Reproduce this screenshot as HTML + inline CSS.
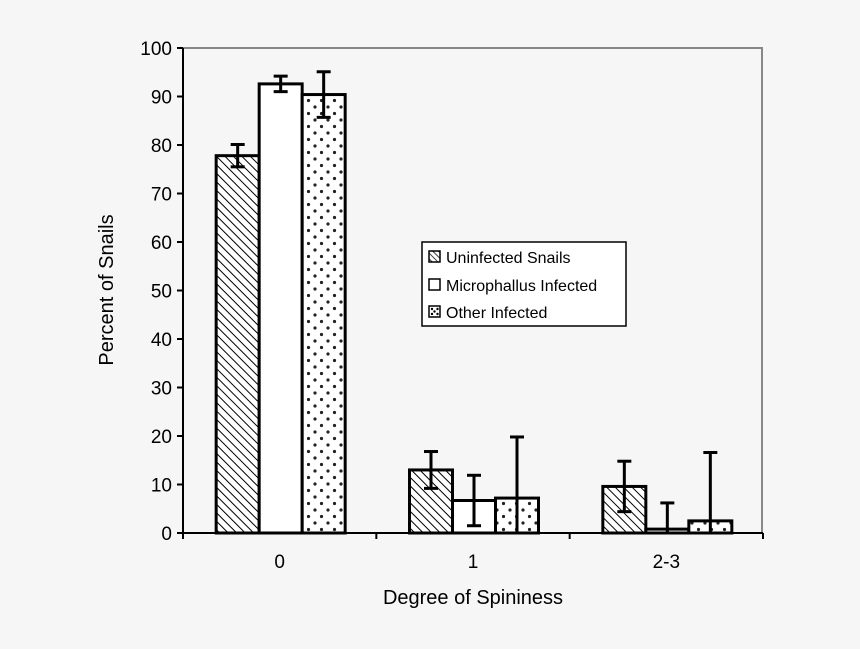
<!DOCTYPE html>
<html><head><meta charset="utf-8"><style>
html,body{margin:0;padding:0;background:#f6f6f6;}
svg{display:block;font-family:"Liberation Sans",Arial,sans-serif;}
</style></head><body>
<svg id="chart" width="860" height="649" viewBox="0 0 860 649">
<defs>
<pattern id="hatch" width="6" height="6" patternUnits="userSpaceOnUse" patternTransform="rotate(-45)">
<rect width="6" height="6" fill="#fff"/><line x1="0" y1="0" x2="0" y2="6" stroke="#000" stroke-width="2"/>
</pattern>
<pattern id="hatchs" width="4" height="4" patternUnits="userSpaceOnUse" patternTransform="rotate(-45)">
<rect width="4" height="4" fill="#fff"/><line x1="0" y1="0" x2="0" y2="4" stroke="#000" stroke-width="1.5"/>
</pattern>
<pattern id="dots" width="13" height="13" patternUnits="userSpaceOnUse">
<rect width="13" height="13" fill="#fff"/><circle cx="3" cy="3" r="1.6" fill="#222"/><circle cx="9.5" cy="9.5" r="1.6" fill="#222"/>
</pattern>
</defs>
<rect x="0" y="0" width="860" height="649" fill="#f6f6f6"/>
<line x1="183" y1="48" x2="763" y2="48" stroke="#888" stroke-width="2"/>
<line x1="762" y1="48" x2="762" y2="533" stroke="#888" stroke-width="2"/>
<g id="bars"></g>
<g id="axes"></g>
<text x="473" y="604" font-size="20" text-anchor="middle">Degree of Spininess</text>
<text transform="translate(113,290) rotate(-90)" font-size="20" text-anchor="middle">Percent of Snails</text>
<g>
<rect x="422" y="242" width="204" height="84" fill="#fff" stroke="#000" stroke-width="1.5"/>
<g><rect x="429" y="251" width="11" height="11" fill="url(#hatchs)" stroke="#000" stroke-width="1.5"/><text x="446" y="263" font-size="16">Uninfected Snails</text></g>
<g><rect x="429" y="279" width="11" height="11" fill="#fff" stroke="#000" stroke-width="1.5"/><text x="446" y="291" font-size="16">Microphallus Infected</text></g>
<g><rect x="429" y="306" width="11" height="11" fill="#fff" stroke="#000" stroke-width="1.5"/><circle cx="432" cy="309" r="1.2" fill="#000"/><circle cx="437.5" cy="309" r="1.2" fill="#000"/><circle cx="434.5" cy="311.5" r="1.2" fill="#000"/><circle cx="432" cy="314" r="1.2" fill="#000"/><circle cx="437.5" cy="314" r="1.2" fill="#000"/><text x="446" y="318" font-size="16">Other Infected</text></g>
</g>
</svg>
<script>
const categories = ["0", "1", "2-3"];
const uninfected = [77.8, 13.0, 9.6];
const uninfectedErr = [2.3, 3.8, 5.2];
const microphallus = [92.6, 6.7, 0.8];
const microphallusErr = [1.6, 5.2, 5.4];
const other = [90.4, 7.2, 2.5];
const otherErr = [4.7, 12.6, 14.1];
const yTicks = [0, 10, 20, 30, 40, 50, 60, 70, 80, 90, 100];

const NS = "http://www.w3.org/2000/svg";
const x0 = 183, x1 = 763, y0 = 533, y1 = 48;
const yScale = v => y0 - (v / 100) * (y0 - y1);
const groupW = (x1 - x0) / categories.length;
const xCenter = i => x0 + groupW * (i + 0.5) + 1;
const barW = 43;
function mk(tag, attrs, parent) {
  const e = document.createElementNS(NS, tag);
  for (const k in attrs) e.setAttribute(k, attrs[k]);
  parent.appendChild(e);
  return e;
}
const bars = document.getElementById("bars");
const axes = document.getElementById("axes");
const series = [
  {vals: uninfected, err: uninfectedErr, fill: "url(#hatch)", name: "uninfected"},
  {vals: microphallus, err: microphallusErr, fill: "#fff", name: "microphallus"},
  {vals: other, err: otherErr, fill: "url(#dots)", name: "other"}
];
categories.forEach((c, i) => {
  series.forEach((s, j) => {
    const bx = xCenter(i) + (j - 1.5) * barW;
    const top = yScale(s.vals[i]);
    const r = mk("rect", {x: bx, y: top, width: barW, height: y0 - top, fill: s.fill, stroke: "#000", "stroke-width": 3}, bars);
    
    
    const cx = bx + barW / 2;
    const hi = yScale(s.vals[i] + s.err[i]);
    const lo = yScale(Math.max(0, s.vals[i] - s.err[i]));
    const g = mk("g", {stroke: "#000", "stroke-width": 3}, bars);
    
    
    mk("line", {x1: cx, y1: hi, x2: cx, y2: lo}, g);
    mk("line", {x1: cx - 7, y1: hi, x2: cx + 7, y2: hi}, g);
    if (s.vals[i] - s.err[i] > 0) mk("line", {x1: cx - 7, y1: lo, x2: cx + 7, y2: lo}, g);
  });
  const lbl = mk("text", {x: xCenter(i) - 1, y: 568, "font-size": 19, "text-anchor": "middle"}, axes);
  lbl.textContent = c;
  
  
});
for (let i = 0; i <= categories.length; i++) {
  const tx = x0 + groupW * i;
  mk("line", {x1: tx, y1: y0, x2: tx, y2: y0 + 6, stroke: "#000", "stroke-width": 2}, axes);
}
const ya = mk("line", {x1: x0, y1: y1, x2: x0, y2: y0, stroke: "#000", "stroke-width": 2}, axes);


const xa = mk("line", {x1: x0, y1: y0, x2: x1, y2: y0, stroke: "#000", "stroke-width": 2}, axes);


yTicks.forEach(t => {
  const y = yScale(t);
  mk("line", {x1: x0 - 6, y1: y, x2: x0, y2: y, stroke: "#000", "stroke-width": 2}, axes);
  const tl = mk("text", {x: x0 - 11, y: y + 7, "font-size": 19, "text-anchor": "end"}, axes);
  tl.textContent = t;
  
  
});
</script>
</body></html>
